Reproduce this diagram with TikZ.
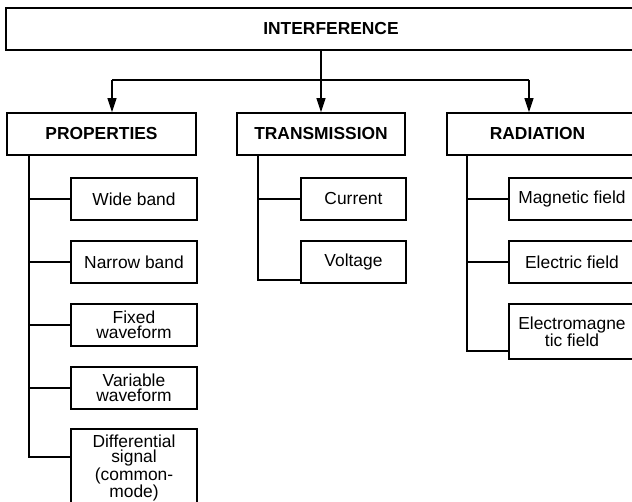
\documentclass[tikz,border=0pt]{standalone}
\usepackage{fontspec}
\setmainfont{Liberation Sans}
\usetikzlibrary{arrows.meta}
\begin{document}
\begin{tikzpicture}[x=1pt,y=-1pt,
  txt/.style={inner sep=0pt, align=center, font=\fontsize{17.4}{15.5}\selectfont},
  btxt/.style={inner sep=0pt, align=center, font=\fontsize{17.4}{15.5}\selectfont\bfseries},
  box/.style={draw, line width=1.6pt, inner sep=0pt, align=center, font=\fontsize{17.4}{15.5}\selectfont},
  bbox/.style={box, font=\fontsize{17.4}{15.5}\selectfont\bfseries},
  link/.style={line width=1.1pt},
  arr/.style={link, -{Triangle[length=14pt,width=9pt]}}]
\clip (0,0) rectangle (632,502);
% main boxes
\node[bbox, minimum width=650pt, minimum height=42pt] (top) at (331,29) {INTERFERENCE};
\node[bbox, minimum width=189pt, minimum height=42pt] (prop) at (101.5,134) {PROPERTIES};
\node[bbox, minimum width=168pt, minimum height=42pt] (trans) at (321,134) {TRANSMISSION};
\node[box, minimum width=200pt, minimum height=42pt, anchor=west] (rad) at (446,134) {};
\node[btxt] (radtxt) at (537.5,134) {RADIATION};
% properties children
\node[box, minimum width=126pt, minimum height=42pt] (wide) at (134,199) {Wide band};
\node[box, minimum width=126pt, minimum height=42pt] (narrow) at (134,262) {Narrow band};
\node[box, minimum width=126pt, minimum height=42pt] (fixed) at (134,325) {Fixed\\waveform};
\node[box, minimum width=126pt, minimum height=42pt] (var) at (134,388) {Variable\\waveform};
\node[box, minimum width=126pt, minimum height=90pt, anchor=north] (diff) at (134,428) {};
\node[txt, anchor=north] (difftxt) at (134,434.5) {Differential\\signal\\(common-\\mode)};
% transmission children
\node[box, minimum width=105pt, minimum height=42pt] (cur) at (353.5,199) {Current};
\node[box, minimum width=105pt, minimum height=42pt] (volt) at (353.5,262) {Voltage};
% radiation children
\node[box, minimum width=126pt, minimum height=42pt] (mag) at (572,199) {Magnetic field};
\node[box, minimum width=126pt, minimum height=42pt] (elec) at (572,262) {Electric field};
\node[box, minimum width=126pt, minimum height=55pt, font=\fontsize{17.4}{14}\selectfont] (em) at (572,331.5) {Electromagne\\tic field};
% top connectors
\coordinate (jl) at (112,80);
\coordinate (jr) at (529,80);
\draw[link] (jl) -- (jr);
\draw[arr] (top.south -| trans.north) -- (trans.north);
\draw[arr] (jl) -- (jl |- prop.north);
\draw[arr] (jr) -- (jr |- rad.north);
% properties tree
\coordinate (pd) at (29,457);
\draw[link] (prop.south -| pd) -- (pd) -- (pd -| diff.west);
\draw[link] (wide.west -| pd) -- (wide.west);
\draw[link] (narrow.west -| pd) -- (narrow.west);
\draw[link] (fixed.west -| pd) -- (fixed.west);
\draw[link] (var.west -| pd) -- (var.west);
% transmission tree
\coordinate (tv) at (258,280);
\draw[link] (trans.south -| tv) -- (tv) -- (tv -| volt.west);
\draw[link] (cur.west -| tv) -- (cur.west);
% radiation tree
\coordinate (rv) at (467,351);
\draw[link] (rad.south -| rv) -- (rv) -- (rv -| em.west);
\draw[link] (mag.west -| rv) -- (mag.west);
\draw[link] (elec.west -| rv) -- (elec.west);
\end{tikzpicture}
\end{document}
